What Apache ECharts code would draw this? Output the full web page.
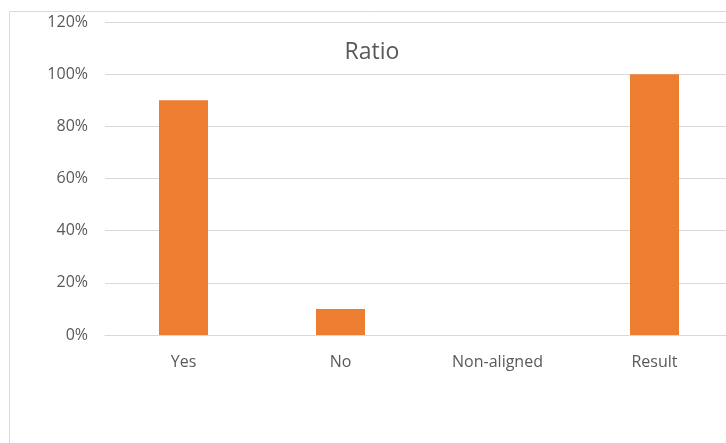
<!DOCTYPE html>
<html>
<head>
<meta charset="utf-8">
<script src="https://cdn.jsdelivr.net/npm/echarts@6/dist/echarts.min.js"></script>
<style>html,body{margin:0;padding:0;background:#fff}#c{width:726px;height:443px}</style>
</head>
<body>
<div id="c"></div>
<script>
var categories = ['Yes', 'No', 'Non-aligned', 'Result'];
var ratioValues = [0.9, 0.1, 0, 1.0];
var titleText = 'Ratio';

var chart = echarts.init(document.getElementById('c'), null, {renderer: 'canvas'});
var font = '"Open Sans", "Liberation Sans", sans-serif';
chart.setOption({
  animation: false,
  title: {
    text: titleText, left: 367, top: 36, textAlign: 'center',
    textStyle: {fontFamily: font, fontSize: 23, fontWeight: 'normal', color: '#595959'}
  },
  graphic: [{
    type: 'rect', shape: {x: 9.5, y: 11.5, width: 800, height: 500},
    style: {fill: 'none', stroke: '#d9d9d9', lineWidth: 1}, silent: true, z: -1
  }],
  grid: {left: 105, top: 22, width: 628, height: 313, containLabel: false, outerBoundsMode: 'none'},
  xAxis: {
    type: 'category', data: categories,
    axisLine: {lineStyle: {color: '#d9d9d9'}},
    axisTick: {show: false},
    axisLabel: {color: '#595959', fontFamily: font, fontSize: 16, margin: 19}
  },
  yAxis: {
    type: 'value', min: 0, max: 1.2, interval: 0.2,
    axisLine: {show: false}, axisTick: {show: false},
    splitLine: {lineStyle: {color: '#d9d9d9'}},
    axisLabel: {
      color: '#595959', fontFamily: font, fontSize: 16, margin: 17,
      formatter: function (v) { return Math.round(v * 100) + '%'; }
    }
  },
  series: [{
    type: 'bar', data: ratioValues, barWidth: 49,
    itemStyle: {color: '#ed7d31'}
  }]
});
</script>
</body>
</html>
